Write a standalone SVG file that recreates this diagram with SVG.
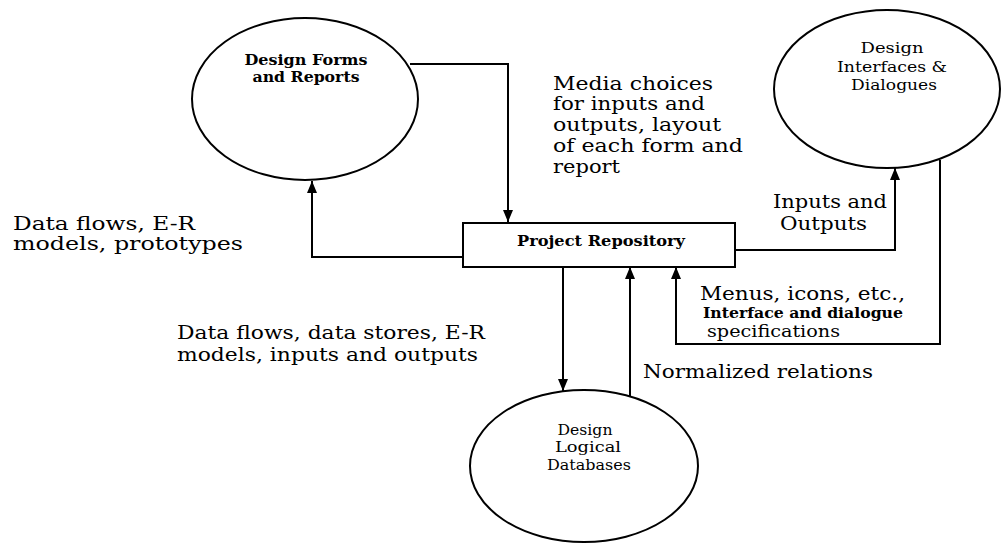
<svg xmlns="http://www.w3.org/2000/svg" width="1001" height="550" viewBox="0 0 1001 550">
<style>
.node{fill:none;stroke:#000;stroke-width:2}
.conn{fill:none;stroke:#000;stroke-width:2}
text{font-family:"DejaVu Serif","Liberation Serif",serif;fill:#000}
.lbl{font-size:19px}
.nl{font-size:15px;text-anchor:middle}
.nb{font-size:15px;font-weight:bold;text-anchor:middle}
</style>
<defs>
<marker id="arr" markerUnits="userSpaceOnUse" markerWidth="12" markerHeight="10" refX="12" refY="5" orient="auto">
<path d="M0,0 L12,5 L0,10 z" fill="#000"/>
</marker>
</defs>
<rect width="1001" height="550" fill="#fff"/>
<g id="connectors">
<path class="conn" d="M410,64 H508 V222" marker-end="url(#arr)"/>
<path class="conn" d="M463,257 H312 V181" marker-end="url(#arr)"/>
<path class="conn" d="M735,250 H895 V168" marker-end="url(#arr)"/>
<path class="conn" d="M940,160 V344 H676 V267" marker-end="url(#arr)"/>
<path class="conn" d="M563,267 V391" marker-end="url(#arr)"/>
<path class="conn" d="M630,396 V267" marker-end="url(#arr)"/>
</g>
<g id="forms">
<ellipse class="node" cx="305" cy="99" rx="113" ry="81"/>
<text class="nb" x="306" y="65" textLength="123" lengthAdjust="spacingAndGlyphs">Design Forms</text>
<text class="nb" x="306" y="82" textLength="107" lengthAdjust="spacingAndGlyphs">and Reports</text>
</g>
<g id="interfaces">
<ellipse class="node" cx="887" cy="89" rx="113" ry="79"/>
<text class="nl" x="892" y="53" textLength="63" lengthAdjust="spacingAndGlyphs">Design</text>
<text class="nl" x="892" y="72" textLength="110" lengthAdjust="spacingAndGlyphs">Interfaces &amp;</text>
<text class="nl" x="894" y="90" textLength="86" lengthAdjust="spacingAndGlyphs">Dialogues</text>
</g>
<g id="repository">
<rect class="node" x="463" y="223" width="272" height="44"/>
<text class="nb" x="601" y="246" textLength="168" lengthAdjust="spacingAndGlyphs">Project Repository</text>
</g>
<g id="databases">
<ellipse class="node" cx="584" cy="466" rx="114" ry="76"/>
<text class="nl" x="585" y="435" textLength="55" lengthAdjust="spacingAndGlyphs">Design</text>
<text class="nl" x="588" y="452" textLength="66" lengthAdjust="spacingAndGlyphs">Logical</text>
<text class="nl" x="589" y="470" textLength="84" lengthAdjust="spacingAndGlyphs">Databases</text>
</g>
<g id="labels">
<text class="lbl" x="553" y="90" textLength="160" lengthAdjust="spacingAndGlyphs">Media choices</text>
<text class="lbl" x="553" y="110" textLength="152" lengthAdjust="spacingAndGlyphs">for inputs and</text>
<text class="lbl" x="553" y="131" textLength="168" lengthAdjust="spacingAndGlyphs">outputs, layout</text>
<text class="lbl" x="553" y="152" textLength="190" lengthAdjust="spacingAndGlyphs">of each form and</text>
<text class="lbl" x="553" y="173" textLength="67" lengthAdjust="spacingAndGlyphs">report</text>
<text class="lbl" x="13" y="230" textLength="182" lengthAdjust="spacingAndGlyphs">Data flows, E-R</text>
<text class="lbl" x="13" y="250" textLength="230" lengthAdjust="spacingAndGlyphs">models,  prototypes</text>
<text class="lbl" x="177" y="339" textLength="308" lengthAdjust="spacingAndGlyphs">Data flows, data stores, E-R</text>
<text class="lbl" x="177" y="361" textLength="301" lengthAdjust="spacingAndGlyphs">models, inputs and  outputs</text>
<text class="lbl" x="773" y="208" textLength="114" lengthAdjust="spacingAndGlyphs">Inputs and</text>
<text class="lbl" x="780" y="230" textLength="87" lengthAdjust="spacingAndGlyphs">Outputs</text>
<text class="lbl" x="700" y="300" textLength="205" lengthAdjust="spacingAndGlyphs">Menus, icons, etc.,</text>
<text x="703" y="318" style="font-size:15.5px;font-weight:600" textLength="200" lengthAdjust="spacingAndGlyphs">Interface and dialogue</text>
<text x="707" y="337" style="font-size:17px" textLength="133" lengthAdjust="spacingAndGlyphs">specifications</text>
<text class="lbl" x="643" y="378" textLength="230" lengthAdjust="spacingAndGlyphs">Normalized relations</text>
</g>
</svg>
